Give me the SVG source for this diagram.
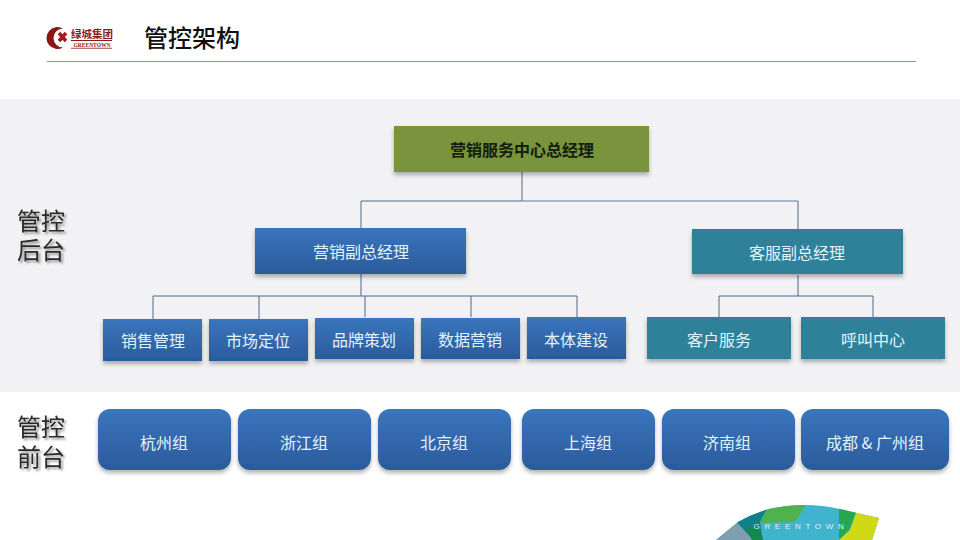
<svg xmlns="http://www.w3.org/2000/svg" width="960" height="540" viewBox="0 0 960 540">
<defs>
<linearGradient id="blue" x1="0" y1="0" x2="0" y2="1"><stop offset="0" stop-color="#3a75bd"/><stop offset="1" stop-color="#2b5b9b"/></linearGradient>
<filter id="sh" x="-10%" y="-10%" width="120%" height="130%"><feDropShadow dx="0" dy="3" stdDeviation="2" flood-color="#000" flood-opacity="0.3"/></filter>
<filter id="ts" x="-10%" y="-10%" width="125%" height="125%"><feDropShadow dx="2" dy="2" stdDeviation="1" flood-color="#000" flood-opacity="0.4"/></filter>
<clipPath id="arc"><path d="M716 540 L738 522 Q752 514 769 509 Q805 501 840 509 L857 513 L879 518 L872 540 Z"/></clipPath>
</defs>
<style>
text{font-family:"Noto Sans CJK SC","Liberation Sans",sans-serif;text-anchor:middle}
.b{fill:url(#blue);filter:url(#sh)}
.t{fill:#2f8199;filter:url(#sh)}
.l{font-size:16px;fill:#e4f2fb;dominant-baseline:central}
.side{font-size:24px;fill:#2a2a2a;filter:url(#ts)}
.c{fill:none;stroke:#4f6a86;stroke-width:1}
.cl{fill:none;stroke:#8ea5c2;stroke-width:1.300}
</style>
<rect width="960" height="540" fill="#fff"/>
<rect y="99" width="960" height="293" fill="#f2f1f3"/>
<g id="logo">
<path d="M63 28.500 A11 11 0 1 0 63 47.500 A9.500 9.500 0 1 1 63 28.500 Z" fill="#8c1515"/>
<path d="M59 33 L66 41 M66 33 L59 41" stroke="#a51c1c" stroke-width="3.500" fill="none"/>
<text x="92" y="38" font-size="10.500" font-weight="700" style="fill:#8c1a1a">绿城集团</text>
<rect x="71" y="40" width="41" height="1" fill="#8c1a1a"/>
<text x="92" y="46.500" font-size="5.500" font-weight="700" style="fill:#8c1a1a;font-family:'Liberation Serif',serif">GREENTOWN</text>
<rect x="71" y="47.800" width="41" height="0.800" fill="#8c1a1a"/>
</g>
<text x="192" y="47" font-size="24" font-weight="500" style="fill:#111">管控架构</text>
<rect x="47" y="61" width="869" height="1" fill="#b08a84"/>
<g id="side-labels">
<text class="side"><tspan x="41" y="230">管控</tspan><tspan x="41" y="259">后台</tspan></text>
<text class="side"><tspan x="41" y="436">管控</tspan><tspan x="41" y="466">前台</tspan></text>
</g>
<g id="connectors">
<path class="c" d="M522 172 V201 H361 V228"/>
<path class="cl" d="M522 201 H798"/>
<path class="c" d="M798 201 V230"/>
<path class="c" d="M361 274 V296 M153 319 V296 H577 V317 M259 319 V296 M365 317 V296 M471 317 V296"/>
<path class="c" d="M798 275 V296 M719 317 V296 H873 V317"/>
</g>
<g id="gm"><rect x="394" y="126" width="255" height="46" fill="#7a933c" style="filter:url(#sh)"/><text x="522" y="149" font-size="16" font-weight="700" dominant-baseline="central" style="fill:#12200f">营销服务中心总经理</text></g>
<g id="vp-sales"><rect class="b" x="255" y="228" width="211" height="46"/><text class="l" x="361" y="251">营销副总经理</text></g>
<g id="vp-service"><rect class="t" x="692" y="229" width="211" height="45"/><text class="l" x="797" y="252">客服副总经理</text></g>
<g id="n1"><rect class="b" x="103" y="319" width="99" height="42"/><text class="l" x="153" y="340">销售管理</text></g>
<g id="n2"><rect class="b" x="209" y="319" width="99" height="42"/><text class="l" x="258" y="340">市场定位</text></g>
<g id="n3"><rect class="b" x="315" y="318" width="99" height="41"/><text class="l" x="364" y="339">品牌策划</text></g>
<g id="n4"><rect class="b" x="421" y="318" width="99" height="41"/><text class="l" x="470" y="339">数据营销</text></g>
<g id="n5"><rect class="b" x="527" y="317" width="99" height="42"/><text class="l" x="576" y="339">本体建设</text></g>
<g id="n6"><rect class="t" x="647" y="317" width="144" height="42"/><text class="l" x="719" y="339">客户服务</text></g>
<g id="n7"><rect class="t" x="801" y="317" width="144" height="42"/><text class="l" x="873" y="339">呼叫中心</text></g>
<g id="f1"><rect class="b" x="98" y="409" width="133" height="61" rx="12"/><text class="l" x="164" y="442">杭州组</text></g>
<g id="f2"><rect class="b" x="238" y="409" width="133" height="61" rx="12"/><text class="l" x="304" y="442">浙江组</text></g>
<g id="f3"><rect class="b" x="378" y="409" width="133" height="61" rx="12"/><text class="l" x="444" y="442">北京组</text></g>
<g id="f4"><rect class="b" x="522" y="409" width="133" height="61" rx="12"/><text class="l" x="588" y="442">上海组</text></g>
<g id="f5"><rect class="b" x="662" y="409" width="133" height="61" rx="12"/><text class="l" x="727" y="442">济南组</text></g>
<g id="f6"><rect class="b" x="801" y="409" width="148" height="61" rx="12"/><text class="l" x="875" y="442">成都 &amp; 广州组</text></g>
<g id="brand">
<g clip-path="url(#arc)">
<rect x="710" y="500" width="180" height="40" fill="#40b4cf"/>
<path d="M710 540 L738 518 L753 540 Z" fill="#7f9fb0"/>
<path d="M735 520 L769 505 L760 522 L763 540 L753 540 Z" fill="#12808a"/>
<path d="M759 526 L763 540 L752 540 L746 528 Z" fill="#12894f"/>
<path d="M769 505 L809 500 L795 522 L760 523 Z" fill="#4fb24f"/>
<path d="M839 505 L857 510 L849 530 L839 540 Z" fill="#27a84f"/>
<path d="M857 510 L885 516 L872 540 L839 540 L850 530 Z" fill="#cfd916"/>
</g>
<text x="801" y="529" font-size="8" letter-spacing="4.700" style="fill:#d8f4ee;font-family:'Liberation Sans',sans-serif">GREENTOWN</text>
</g>
</svg>
